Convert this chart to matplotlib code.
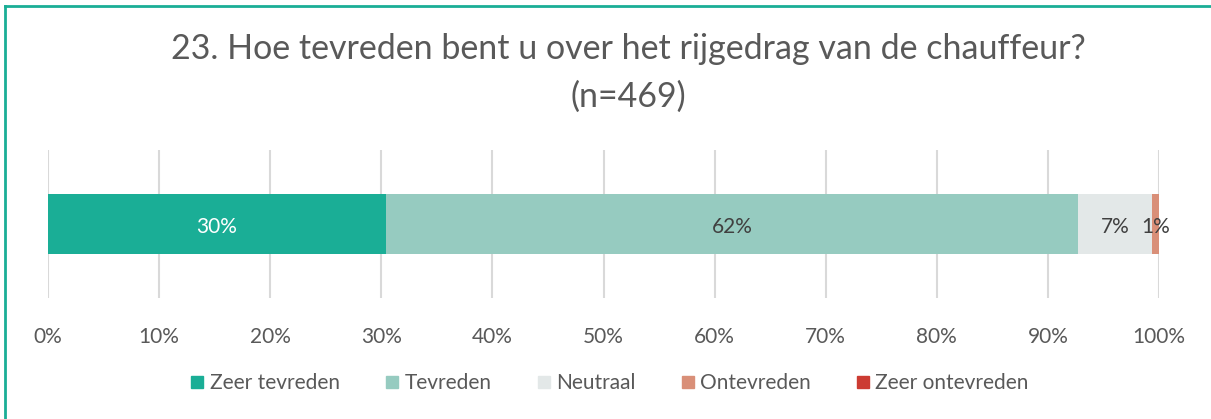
import matplotlib
import matplotlib.pyplot as plt
from matplotlib.lines import Line2D

categories = ["Zeer tevreden", "Tevreden", "Neutraal", "Ontevreden", "Zeer ontevreden"]
values = [30.4, 62.3, 6.7, 0.6, 0.0]
colors = ["#1aae96", "#96cbc0", "#e3e8e8", "#d98f78", "#cc3b32"]
label_colors = ["white", "#404040", "#404040", "#404040", "#404040"]
ticks = [0, 10, 20, 30, 40, 50, 60, 70, 80, 90, 100]

title = "23. Hoe tevreden bent u over het rijgedrag van de chauffeur?\n(n=469)"

matplotlib.rcParams["font.family"] = ["Lato", "DejaVu Sans"]

fig = plt.figure(figsize=(12.11, 4.19), dpi=100)
ax = fig.add_axes([48 / 1211, 1 - 298 / 419, 1111 / 1211, 148 / 419])

left = 0.0
for name, val, col, lcol in zip(categories, values, colors, label_colors):
    ax.barh(0, val, left=left, height=0.405, color=col, label=name, zorder=3)
    if val > 0:
        ax.text(left + val / 2, -0.02, "{:.0f}%".format(val), ha="center", va="center",
                color=lcol, fontsize=15, zorder=4)
    left += val

ax.set_xlim(0, 100)
ax.set_ylim(-0.5, 0.5)
ax.set_xticks(ticks)
ax.set_xticklabels(["{}%".format(t) for t in ticks])
ax.set_yticks([])
ax.tick_params(axis="x", length=0, pad=21, labelsize=15, labelcolor="#595959")
ax.grid(axis="x", color="#d9d9d9", linewidth=1.5, zorder=0)
for s in ax.spines.values():
    s.set_visible(False)

fig.text(0.519, 1 - 73 / 419, title, ha="center", va="center", fontsize=24.5,
         color="#595959", linespacing=1.6)

handles = [Line2D([], [], marker="s", linestyle="", markersize=9, color=c) for c in colors]
fig.legend(handles, categories, loc="center", bbox_to_anchor=(610 / 1211, 1 - 383 / 419),
           ncol=5, frameon=False, fontsize=15, handlelength=0.6, handletextpad=0.3,
           columnspacing=2.2, labelcolor="#595959")

# teal border on left and top
fig.add_artist(Line2D([4.5 / 1211, 4.5 / 1211], [0, 1 - 6 / 419], color="#1aae96",
                      linewidth=2, transform=fig.transFigure))
fig.add_artist(Line2D([4.5 / 1211, 1], [1 - 6 / 419, 1 - 6 / 419], color="#1aae96",
                      linewidth=2, transform=fig.transFigure))

fig.savefig("out.png", dpi=100)
